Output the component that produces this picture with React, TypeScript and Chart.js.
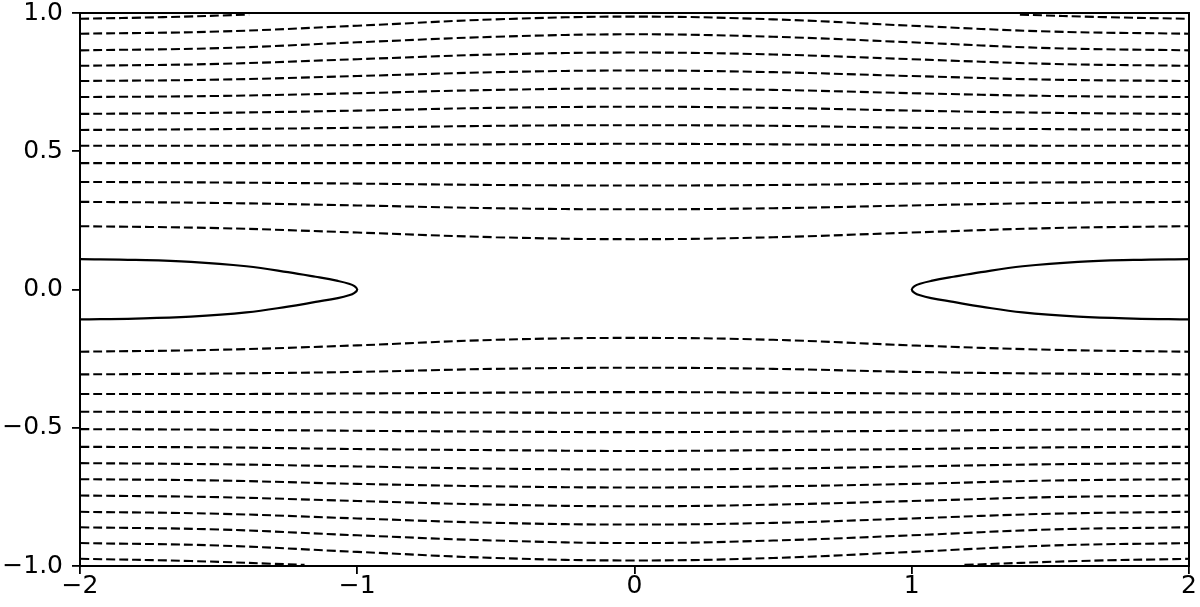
import React, { useEffect, useRef } from "react";
import { Chart, registerables } from "chart.js";

Chart.register(...registerables);

// x positions where the contour lines were read
const gridX = [-2, -1.5, -1, -0.5, 0, 0.5, 1, 1.5, 2];

// upper dashed contours (top to bottom)
const upper2 = [0.925, 0.933, 0.954, 0.977, 0.987, 0.977, 0.954, 0.933, 0.925];
const upper3 = [0.865, 0.873, 0.894, 0.914, 0.923, 0.914, 0.894, 0.873, 0.865];
const upper4 = [0.809, 0.816, 0.833, 0.85, 0.857, 0.85, 0.833, 0.816, 0.809];
const upper5 = [0.754, 0.759, 0.772, 0.786, 0.792, 0.786, 0.772, 0.759, 0.754];
const upper6 = [0.696, 0.7, 0.71, 0.722, 0.727, 0.722, 0.71, 0.7, 0.696];
const upper7 = [0.635, 0.639, 0.647, 0.657, 0.661, 0.657, 0.647, 0.639, 0.635];
const upper8 = [0.577, 0.58, 0.585, 0.592, 0.594, 0.592, 0.585, 0.58, 0.577];
const upper9 = [0.52, 0.52, 0.522, 0.525, 0.527, 0.525, 0.522, 0.52, 0.52];
const upper10 = [0.457, 0.457, 0.457, 0.457, 0.457, 0.457, 0.457, 0.457, 0.457];
const upper11 = [0.389, 0.387, 0.383, 0.378, 0.376, 0.378, 0.383, 0.387, 0.389];
const upper12 = [0.317, 0.313, 0.304, 0.294, 0.29, 0.294, 0.304, 0.313, 0.317];
const upper13 = [0.229, 0.222, 0.206, 0.189, 0.182, 0.189, 0.206, 0.222, 0.229];

// lower dashed contours (top to bottom)
const lower1 = [-0.225, -0.218, -0.202, -0.182, -0.175, -0.182, -0.202, -0.218, -0.225];
const lower2 = [-0.307, -0.304, -0.298, -0.287, -0.283, -0.287, -0.298, -0.304, -0.307];
const lower3 = [-0.378, -0.378, -0.376, -0.373, -0.371, -0.373, -0.376, -0.378, -0.378];
const lower4 = [-0.442, -0.443, -0.444, -0.445, -0.446, -0.445, -0.444, -0.443, -0.442];
const lower5 = [-0.505, -0.507, -0.511, -0.514, -0.516, -0.514, -0.511, -0.507, -0.505];
const lower6 = [-0.569, -0.571, -0.577, -0.581, -0.584, -0.581, -0.577, -0.571, -0.569];
const lower7 = [-0.628, -0.632, -0.64, -0.648, -0.651, -0.648, -0.64, -0.632, -0.628];
const lower8 = [-0.686, -0.691, -0.703, -0.712, -0.716, -0.712, -0.703, -0.691, -0.686];
const lower9 = [-0.745, -0.751, -0.765, -0.778, -0.784, -0.778, -0.765, -0.751, -0.745];
const lower10 = [-0.804, -0.811, -0.828, -0.844, -0.85, -0.844, -0.828, -0.811, -0.804];
const lower11 = [-0.86, -0.868, -0.889, -0.908, -0.917, -0.908, -0.889, -0.868, -0.86];
const lower12 = [-0.917, -0.926, -0.949, -0.971, -0.98, -0.971, -0.949, -0.926, -0.917];

// short contour pieces that leave the box at the top / bottom edge
const capLeftX = [-2, -1.7, -1.39];
const capLeftY = [0.979, 0.985, 0.994];
const capRightX = [1.39, 1.7, 2];
const capRightY = [0.994, 0.985, 0.979];
const tailLeftX = [-2, -1.6, -1.19];
const tailLeftY = [-0.974, -0.982, -0.996];
const tailRightX = [1.19, 1.6, 2];
const tailRightY = [-0.996, -0.982, -0.974];

// solid loops at the left and right edges
const loopLeftX = [-2, -1.8, -1.6, -1.4, -1.25, -1.15, -1.07, -1.03, -1.01, -1.0, -1.01, -1.03, -1.07, -1.15, -1.25, -1.4, -1.6, -1.8, -2];
const loopLeftY = [0.11, 0.107, 0.1, 0.084, 0.063, 0.046, 0.031, 0.021, 0.012, 0, -0.012, -0.021, -0.031, -0.045, -0.062, -0.083, -0.098, -0.105, -0.108];
const loopRightX = [2, 1.8, 1.6, 1.4, 1.25, 1.15, 1.07, 1.03, 1.01, 1.0, 1.01, 1.03, 1.07, 1.15, 1.25, 1.4, 1.6, 1.8, 2];
const loopRightY = [0.11, 0.107, 0.1, 0.084, 0.063, 0.046, 0.031, 0.021, 0.012, 0, -0.012, -0.021, -0.031, -0.045, -0.062, -0.083, -0.098, -0.105, -0.108];

const xTicks = [-2, -1, 0, 1, 2];
const yTicks = [-1, -0.5, 0, 0.5, 1];

const dashedLines = [
  upper2, upper3, upper4, upper5, upper6, upper7, upper8, upper9, upper10, upper11, upper12, upper13,
  lower1, lower2, lower3, lower4, lower5, lower6, lower7, lower8, lower9, lower10, lower11, lower12,
];

const pts = (xs: number[], ys: number[]) => xs.map((x, i) => ({ x, y: ys[i] }));
const minus = (s: string) => s.replace("-", "\u2212");

const framePlugin = {
  id: "frame",
  afterDatasetsDraw(chart: any) {
    const { ctx, chartArea: a } = chart;
    ctx.save();
    ctx.strokeStyle = "#000";
    ctx.lineWidth = 2;
    ctx.strokeRect(a.left, a.top, a.right - a.left, a.bottom - a.top);
    ctx.restore();
  },
};

export default function App() {
  const ref = useRef<HTMLCanvasElement | null>(null);

  useEffect(() => {
    if (!ref.current) return;
    const dashStyle = {
      borderColor: "#000",
      borderWidth: 2.1,
      borderDash: [9, 4],
      pointRadius: 0,
      tension: 0.4,
      fill: false,
    };
    const solidStyle = {
      borderColor: "#000",
      borderWidth: 2.2,
      pointRadius: 0,
      tension: 0.4,
      fill: false,
    };
    const datasets: any[] = [
      ...dashedLines.map((ys) => ({ data: pts(gridX, ys), ...dashStyle })),
      { data: pts(capLeftX, capLeftY), ...dashStyle },
      { data: pts(capRightX, capRightY), ...dashStyle },
      { data: pts(tailLeftX, tailLeftY), ...dashStyle },
      { data: pts(tailRightX, tailRightY), ...dashStyle },
      { data: pts(loopLeftX, loopLeftY), ...solidStyle },
      { data: pts(loopRightX, loopRightY), ...solidStyle },
    ];

    const tickFont = { family: "DejaVu Sans", size: 25 };
    const chart = new Chart(ref.current, {
      type: "line",
      data: { datasets },
      plugins: [framePlugin],
      options: {
        animation: false,
        responsive: false,
        devicePixelRatio: 1,
        layout: { padding: { left: 0, right: 11, top: 13, bottom: 0 } },
        plugins: { legend: { display: false }, tooltip: { enabled: false } },
        scales: {
          x: {
            type: "linear",
            min: -2,
            max: 2,
            afterFit: (s: any) => {
              s.height = 41;
              s.paddingLeft = 0;
              s.paddingRight = 0;
            },
            afterBuildTicks: (s: any) => {
              s.ticks = xTicks.map((v) => ({ value: v }));
            },
            ticks: {
              color: "#000",
              font: tickFont,
              padding: -3,
              maxRotation: 0,
              autoSkip: false,
              callback: (v: any) => minus(String(v)),
            },
            grid: { drawOnChartArea: false, drawTicks: true, tickLength: 8, color: "#000", lineWidth: 1.8 },
            border: { display: false },
          },
          y: {
            type: "linear",
            min: -1,
            max: 1,
            afterFit: (s: any) => {
              s.width = 80;
              s.paddingTop = 0;
              s.paddingBottom = 0;
            },
            afterBuildTicks: (s: any) => {
              s.ticks = yTicks.map((v) => ({ value: v }));
            },
            ticks: {
              color: "#000",
              font: tickFont,
              padding: 9,
              autoSkip: false,
              callback: (v: any) => minus(Number(v).toFixed(1)),
            },
            grid: { drawOnChartArea: false, drawTicks: true, tickLength: 8, color: "#000", lineWidth: 1.8 },
            border: { display: false },
          },
        },
      },
    });
    return () => chart.destroy();
  }, []);

  return (
    <div style={{ position: "fixed", left: 0, top: 0, width: 1200, height: 607, background: "#fff" }}>
      <canvas ref={ref} width={1200} height={607} />
    </div>
  );
}
